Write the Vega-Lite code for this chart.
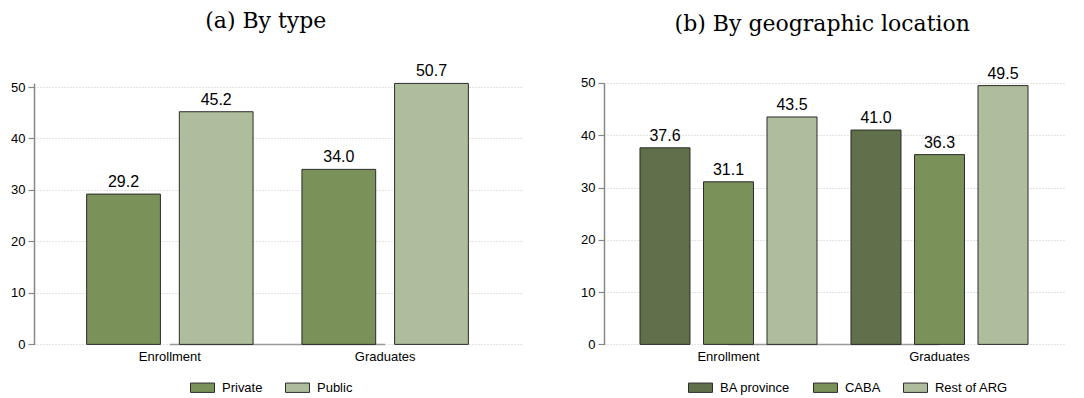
{
  "$schema": "https://vega.github.io/schema/vega-lite/v6.json",
  "background": "white",
  "padding": {"left": 10, "top": 10, "right": 5, "bottom": 0},
  "spacing": 59,
  "config": {
    "view": {"stroke": null},
    "font": "Liberation Sans",
    "title": {"font": "DejaVu Serif", "fontSize": 22, "fontWeight": "normal", "color": "#000", "anchor": "middle", "frame": "bounds", "offset": 30},
    "axis": {"labelFont": "Liberation Sans", "labelFontSize": 13, "labelColor": "#000"},
    "legend": {"labelFont": "Liberation Sans", "labelFontSize": 13, "labelColor": "#000", "padding": 0}
  },
  "resolve": {"scale": {"x": "independent", "y": "independent", "color": "independent", "xOffset": "independent"}, "legend": {"color": "independent"}},
  "hconcat": [
    {
      "width": 487,
      "height": 261.4,
      "title": {"text": "(a) By type"},
      "layer": [
        {
          "data": {"values": [{"from": "Enrollment", "to": "Graduates", "base": 0}]},
          "mark": {"type": "rule", "color": "#999", "strokeWidth": 1.5},
          "encoding": {
            "x": {"field": "from", "type": "nominal", "bandPosition": 0.5, "sort": ["Enrollment", "Graduates"]},
            "x2": {"field": "to"},
            "y": {"field": "base", "type": "quantitative"}
          }
        },
        {
          "data": {"values": [
            {"measure": "Enrollment", "group": "Private", "value": 29.2},
            {"measure": "Enrollment", "group": "Public", "value": 45.2},
            {"measure": "Graduates", "group": "Private", "value": 34.0},
            {"measure": "Graduates", "group": "Public", "value": 50.7}
          ]},
          "encoding": {
            "x": {"field": "measure", "type": "nominal", "sort": ["Enrollment", "Graduates"],
              "scale": {"paddingInner": 0.01, "paddingOuter": 0.136},
              "axis": {"title": null, "labelAngle": 0, "labelAlign": "center", "labelFontSize": 13, "labelFont": "Liberation Sans", "domain": false, "ticks": false, "labelPadding": 12}},
            "xOffset": {"field": "group", "type": "nominal", "sort": ["Private", "Public"], "scale": {"paddingInner": 0.204, "paddingOuter": 0.252}},
            "y": {"field": "value", "type": "quantitative",
              "scale": {"domain": [0, 50.78], "nice": false, "zero": true},
              "axis": {"title": null, "values": [0, 10, 20, 30, 40, 50], "labelFontSize": 13, "labelFont": "Liberation Sans", "domainColor": "#888", "domainWidth": 1.5, "tickColor": "#888", "tickSize": 6, "tickWidth": 1.2, "labelPadding": 3, "gridColor": "#c8c8c8", "gridDash": [1, 2], "grid": true}}
          },
          "layer": [
            {
              "mark": {"type": "bar", "stroke": "#2b2b2b", "strokeWidth": 1, "opacity": 1},
              "encoding": {
                "color": {"field": "group", "type": "nominal", "sort": ["Private", "Public"],
                  "scale": {"domain": ["Private", "Public"], "range": ["#7a9159", "#aebd9c"]},
                  "legend": {"title": null, "orient": "none", "legendX": 156, "legendY": 292, "direction": "horizontal", "symbolType": "M-1,-0.39H1V0.39H-1Z", "symbolSize": 576, "symbolStrokeColor": "#2b2b2b", "symbolStrokeWidth": 1, "symbolOpacity": 1, "labelFontSize": 13, "labelOffset": 7, "columnPadding": 20}}
              }
            },
            {
              "mark": {"type": "text", "baseline": "alphabetic", "dy": -7, "fontSize": 16, "color": "#000"},
              "encoding": {"text": {"field": "value", "type": "quantitative", "format": ".1f"}}
            }
          ]
        }
      ]
    },
    {
      "width": 460,
      "height": 261.4,
      "title": {"text": "(b) By geographic location"},
      "layer": [
        {
          "data": {"values": [{"from": "Enrollment", "to": "Graduates", "base": 0}]},
          "mark": {"type": "rule", "color": "#999", "strokeWidth": 1.5},
          "encoding": {
            "x": {"field": "from", "type": "nominal", "bandPosition": 0.5, "sort": ["Enrollment", "Graduates"]},
            "x2": {"field": "to"},
            "y": {"field": "base", "type": "quantitative"}
          }
        },
        {
          "data": {"values": [
            {"measure": "Enrollment", "group": "BA province", "value": 37.6},
            {"measure": "Enrollment", "group": "CABA", "value": 31.1},
            {"measure": "Enrollment", "group": "Rest of ARG", "value": 43.5},
            {"measure": "Graduates", "group": "BA province", "value": 41.0},
            {"measure": "Graduates", "group": "CABA", "value": 36.3},
            {"measure": "Graduates", "group": "Rest of ARG", "value": 49.5}
          ]},
          "encoding": {
            "x": {"field": "measure", "type": "nominal", "sort": ["Enrollment", "Graduates"],
              "scale": {"paddingInner": 0.052, "paddingOuter": 0.116},
              "axis": {"title": null, "labelAngle": 0, "labelAlign": "center", "labelFontSize": 13, "labelFont": "Liberation Sans", "domain": false, "ticks": false, "labelPadding": 12}},
            "xOffset": {"field": "group", "type": "nominal", "sort": ["BA province", "CABA", "Rest of ARG"], "scale": {"paddingInner": 0.2126, "paddingOuter": 0.181}},
            "y": {"field": "value", "type": "quantitative",
              "scale": {"domain": [0, 50], "nice": false, "zero": true},
              "axis": {"title": null, "values": [0, 10, 20, 30, 40, 50], "labelFontSize": 13, "labelFont": "Liberation Sans", "domainColor": "#888", "domainWidth": 1.5, "tickColor": "#888", "tickSize": 6, "tickWidth": 1.2, "labelPadding": 3, "gridColor": "#c8c8c8", "gridDash": [1, 2], "grid": true}}
          },
          "layer": [
            {
              "mark": {"type": "bar", "stroke": "#2b2b2b", "strokeWidth": 1, "opacity": 1},
              "encoding": {
                "color": {"field": "group", "type": "nominal", "sort": ["BA province", "CABA", "Rest of ARG"],
                  "scale": {"domain": ["BA province", "CABA", "Rest of ARG"], "range": ["#5f704a", "#7a9159", "#aebd9c"]},
                  "legend": {"title": null, "orient": "none", "legendX": 84, "legendY": 292, "direction": "horizontal", "symbolType": "M-1,-0.39H1V0.39H-1Z", "symbolSize": 576, "symbolStrokeColor": "#2b2b2b", "symbolStrokeWidth": 1, "symbolOpacity": 1, "labelFontSize": 13, "labelOffset": 7, "columnPadding": 20}}
              }
            },
            {
              "mark": {"type": "text", "baseline": "alphabetic", "dy": -7, "fontSize": 16, "color": "#000"},
              "encoding": {"text": {"field": "value", "type": "quantitative", "format": ".1f"}}
            }
          ]
        }
      ]
    }
  ]
}
